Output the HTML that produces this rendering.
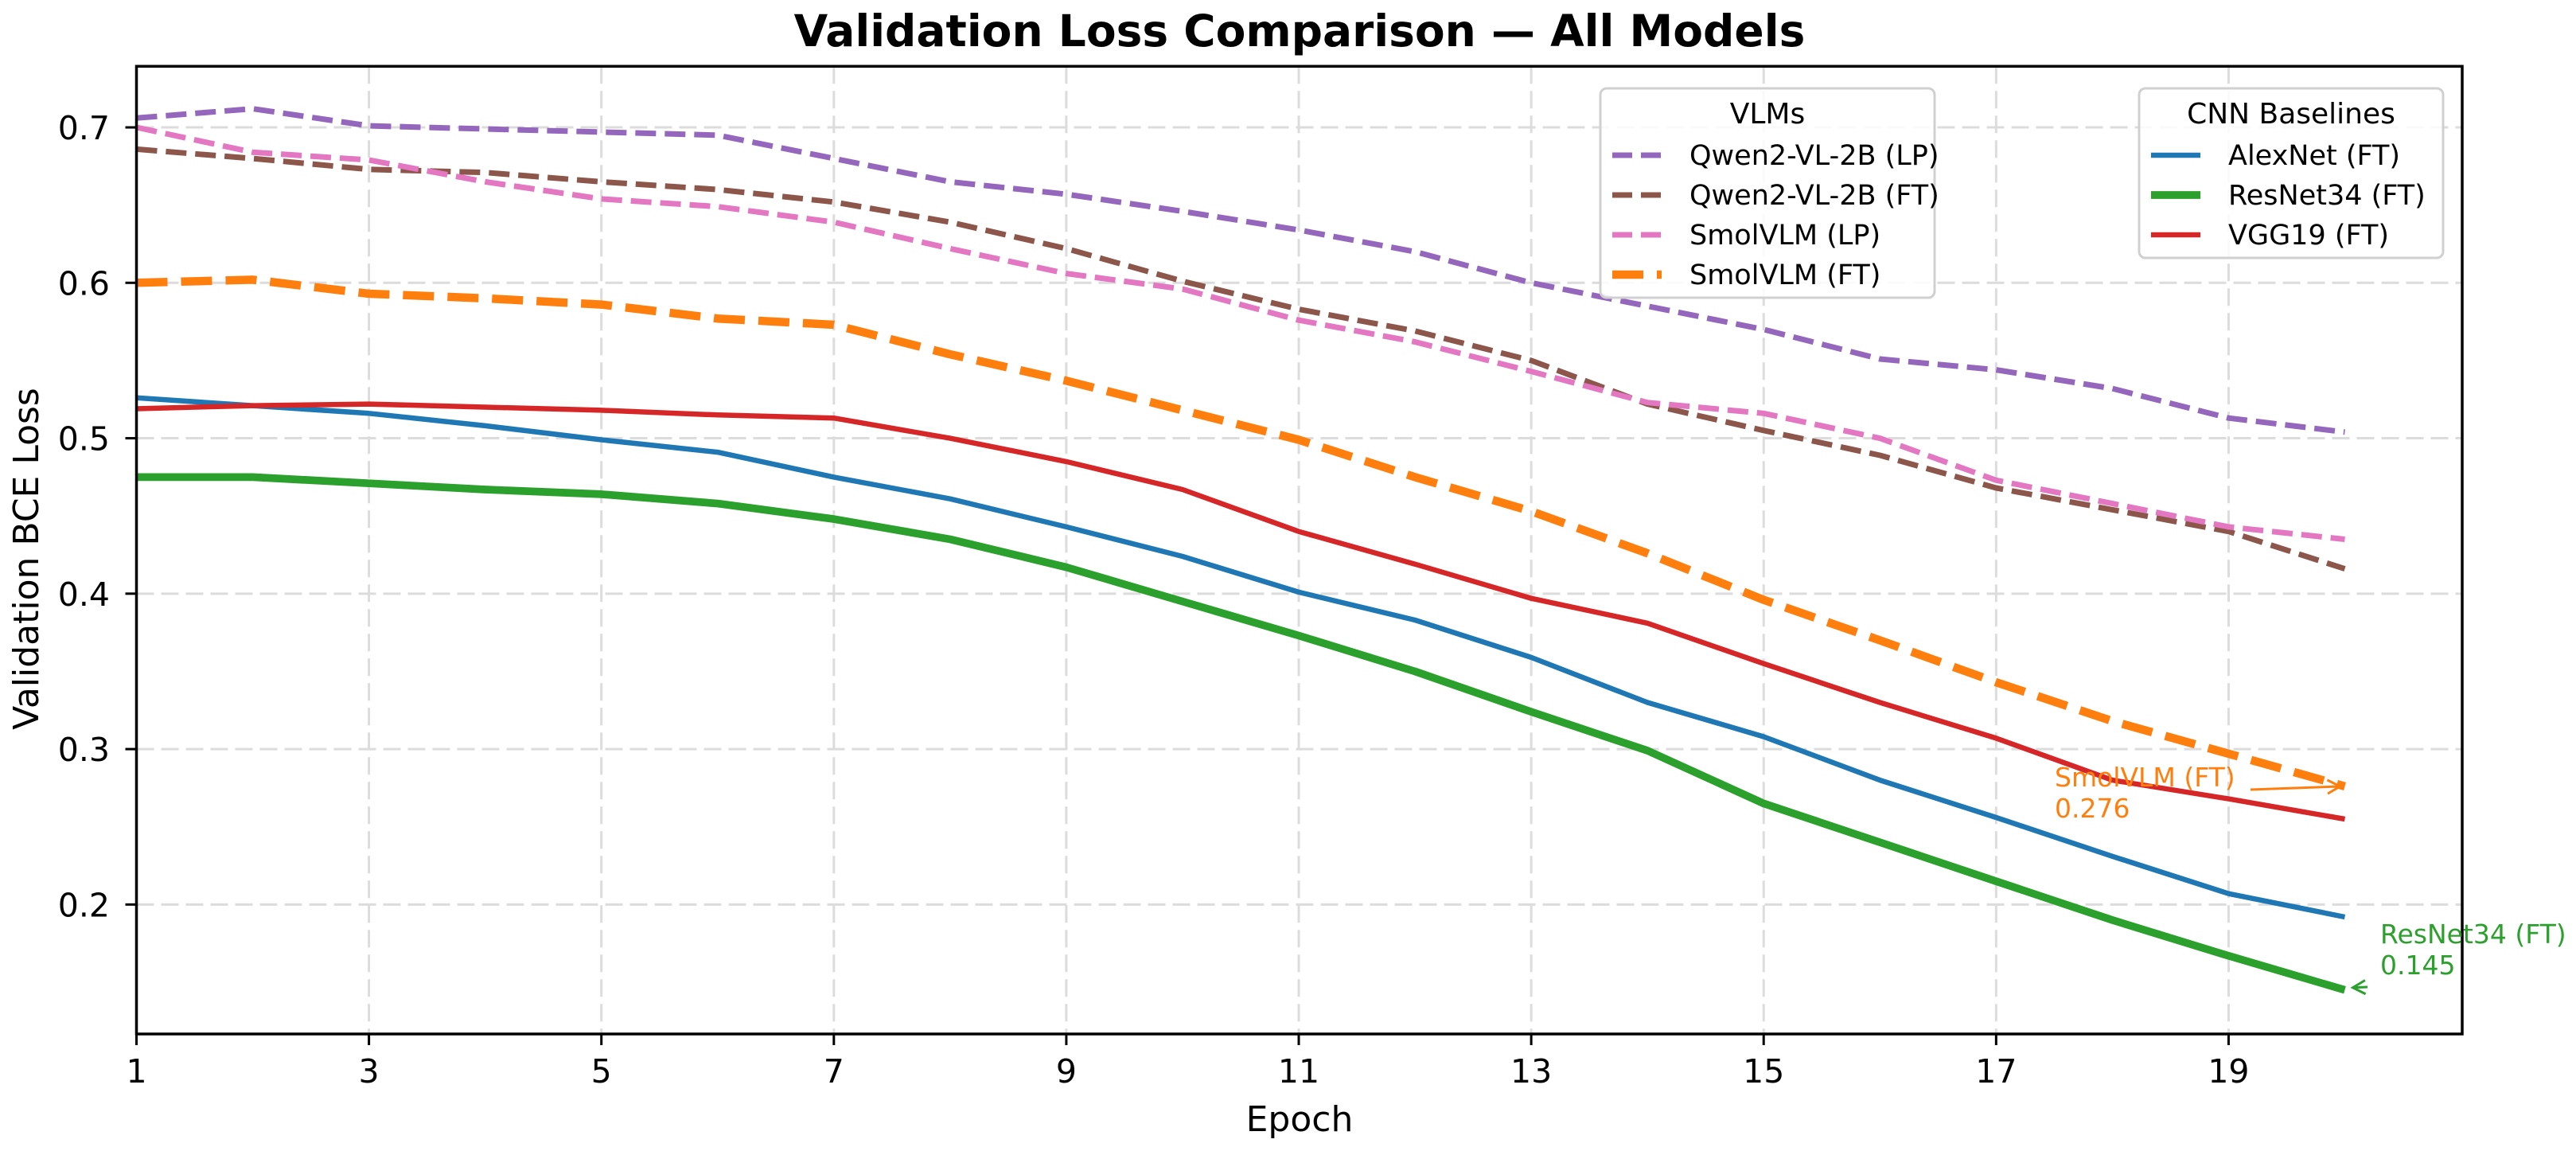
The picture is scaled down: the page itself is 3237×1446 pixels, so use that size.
<!DOCTYPE html>
<html><head><meta charset="utf-8"><style>
html,body{margin:0;padding:0;background:#fff;}
svg{display:block;font-family:"DejaVu Sans","Liberation Sans",sans-serif;}
</style></head><body>
<svg id="chart" width="3237" height="1446" viewBox="0 0 3237 1446" xmlns="http://www.w3.org/2000/svg">
<rect width="3237" height="1446" fill="#fff"/>
<text x="1633" y="58" text-anchor="middle" font-size="55" font-weight="bold">Validation Loss Comparison — All Models</text>
<g id="grid"></g>
<g id="series"></g>
<g id="axes"></g>
<text x="1633" y="1421" text-anchor="middle" font-size="44">Epoch</text>
<text transform="translate(48,702) rotate(-90)" text-anchor="middle" font-size="44">Validation BCE Loss</text>
<g id="legend-vlm"></g>
<g id="legend-cnn"></g>
<g id="annots"></g>
</svg>
<script>
const epochs=[1,2,3,4,5,6,7,8,9,10,11,12,13,14,15,16,17,18,19,20];
const qwenLP=[0.706,0.712,0.701,0.699,0.697,0.695,0.680,0.665,0.657,0.646,0.634,0.620,0.600,0.585,0.570,0.551,0.544,0.532,0.513,0.504];
const qwenFT=[0.686,0.680,0.673,0.671,0.665,0.660,0.652,0.639,0.622,0.601,0.583,0.569,0.550,0.522,0.505,0.489,0.468,0.454,0.440,0.416];
const smolLP=[0.700,0.684,0.679,0.665,0.654,0.649,0.639,0.622,0.606,0.596,0.576,0.562,0.543,0.523,0.516,0.500,0.473,0.458,0.443,0.435];
const smolFT=[0.600,0.602,0.593,0.590,0.586,0.577,0.573,0.554,0.537,0.518,0.499,0.475,0.453,0.426,0.396,0.370,0.343,0.318,0.297,0.276];
const alexFT=[0.526,0.521,0.516,0.508,0.499,0.491,0.475,0.461,0.443,0.424,0.401,0.383,0.359,0.330,0.308,0.280,0.256,0.231,0.207,0.192];
const resFT=[0.475,0.475,0.471,0.467,0.464,0.458,0.448,0.435,0.417,0.395,0.373,0.350,0.324,0.299,0.265,0.240,0.215,0.190,0.167,0.145];
const vggFT=[0.519,0.521,0.522,0.520,0.518,0.515,0.513,0.500,0.485,0.467,0.440,0.419,0.397,0.381,0.355,0.330,0.307,0.280,0.268,0.255];
const xTicks=[1,3,5,7,9,11,13,15,17,19];
const yTicks=[0.2,0.3,0.4,0.5,0.6,0.7];
const yTickLabels=["0.2","0.3","0.4","0.5","0.6","0.7"];

const NS="http://www.w3.org/2000/svg";
const L=171.5,R=3094,T=83.3,B=1299;
const xMin=1,xMax=21.01,yMin=0.1167,yMax=0.7393;
function X(v){return L+(v-xMin)/(xMax-xMin)*(R-L);}
function Y(v){return B-(v-yMin)/(yMax-yMin)*(B-T);}
function mk(tag,attrs,parent){const e=document.createElementNS(NS,tag);for(const k in attrs)e.setAttribute(k,attrs[k]);parent.appendChild(e);return e;}

const grid=document.getElementById('grid');
xTicks.forEach(t=>{
  const l=mk('line',{x1:X(t),x2:X(t),y1:T,y2:B,stroke:'#dcdcdc','stroke-width':3,'stroke-dasharray':'22 9'},grid);
  
  
});
yTicks.forEach(t=>{
  const l=mk('line',{x1:L,x2:R,y1:Y(t),y2:Y(t),stroke:'#dcdcdc','stroke-width':3,'stroke-dasharray':'22 9'},grid);
  
  
});

const seriesDefs=[
  {d:qwenLP,c:'#9467bd',w:7,dash:'26 11',n:'line-qwen2-vl-2b-lp'},
  {d:qwenFT,c:'#8c564b',w:7,dash:'26 11',n:'line-qwen2-vl-2b-ft'},
  {d:smolLP,c:'#e377c2',w:7,dash:'26 11',n:'line-smolvlm-lp'},
  {d:smolFT,c:'#ff7f0e',w:10.5,dash:'39 17',n:'line-smolvlm-ft'},
  {d:alexFT,c:'#1f77b4',w:6.5,dash:null,n:'line-alexnet-ft'},
  {d:resFT,c:'#2ca02c',w:9.7,dash:null,n:'line-resnet34-ft'},
  {d:vggFT,c:'#d62728',w:6.5,dash:null,n:'line-vgg19-ft'}
];
const sg=document.getElementById('series');
seriesDefs.forEach(s=>{
  const pts=epochs.map((e,i)=>X(e).toFixed(1)+','+Y(s.d[i]).toFixed(1)).join(' ');
  const a={points:pts,fill:'none',stroke:s.c,'stroke-width':s.w,'stroke-linejoin':'round'};
  if(s.dash)a['stroke-dasharray']=s.dash;
  const p=mk('polyline',a,sg);
  
  
});

const ax=document.getElementById('axes');
const frame=mk('rect',{x:L,y:T,width:R-L,height:B-T,fill:'none',stroke:'#000','stroke-width':3.5},ax);


xTicks.forEach(t=>{
  const tk=mk('line',{x1:X(t),x2:X(t),y1:B,y2:B+14,stroke:'#000','stroke-width':3},ax);
  
  
  const tx=mk('text',{x:X(t),y:1360,'text-anchor':'middle','font-size':41},ax);
  tx.textContent=String(t);
  
  
});
yTicks.forEach((t,i)=>{
  const tk=mk('line',{x1:L-14,x2:L,y1:Y(t),y2:Y(t),stroke:'#000','stroke-width':3},ax);
  
  
  const tx=mk('text',{x:138,y:Y(t)+15,'text-anchor':'end','font-size':41},ax);
  tx.textContent=yTickLabels[i];
  
  
});

function legend(gid,x,y,w,h,title,items){
  const g=document.getElementById(gid);
  const box=mk('rect',{x:x,y:y,width:w,height:h,rx:8,fill:'rgba(255,255,255,0.85)',stroke:'#d0d0d0','stroke-width':3},g);
  
  
  const tt=mk('text',{x:x+w/2,y:y+44,'text-anchor':'middle','font-size':36},g);
  tt.textContent=title;
  
  
  items.forEach((it,i)=>{
    const cy=y+84+i*50;
    const a={x1:x+15,x2:x+77,y1:cy,y2:cy,stroke:it.c,'stroke-width':it.w};
    if(it.dash)a['stroke-dasharray']=it.dash;
    const ln=mk('line',a,g);
    
    
    const tx=mk('text',{x:x+112,y:cy+12,'font-size':35},g);
    tx.textContent=it.label;
    
    
  });
}
legend('legend-vlm',2011,111,420,263,'VLMs',[
  {label:'Qwen2-VL-2B (LP)',c:'#9467bd',w:7,dash:'25 11'},
  {label:'Qwen2-VL-2B (FT)',c:'#8c564b',w:7,dash:'25 11'},
  {label:'SmolVLM (LP)',c:'#e377c2',w:7,dash:'25 11'},
  {label:'SmolVLM (FT)',c:'#ff7f0e',w:10.5,dash:'39 17'}]);
legend('legend-cnn',2688,111,382,213,'CNN Baselines',[
  {label:'AlexNet (FT)',c:'#1f77b4',w:6.5},
  {label:'ResNet34 (FT)',c:'#2ca02c',w:9.7},
  {label:'VGG19 (FT)',c:'#d62728',w:6.5}]);

const an=document.getElementById('annots');
function annot(lines,tx,ty,color,ax0,ay0,ax1,ay1,name){
  lines.forEach((s,i)=>{
    const t=mk('text',{x:tx,y:ty+i*39,'font-size':33,fill:color},an);
    t.textContent=s;
    
    
  });
  const ln=mk('line',{x1:ax0,y1:ay0,x2:ax1,y2:ay1,stroke:color,'stroke-width':3},an);
  
  
  const ang=Math.atan2(ay1-ay0,ax1-ax0),h=18;
  const p=mk('polyline',{points:(ax1-h*Math.cos(ang-0.5))+','+(ay1-h*Math.sin(ang-0.5))+' '+ax1+','+ay1+' '+(ax1-h*Math.cos(ang+0.5))+','+(ay1-h*Math.sin(ang+0.5)),fill:'none',stroke:color,'stroke-width':3},an);
  
  
}
annot(['SmolVLM (FT)','0.'+String(Math.round(smolFT[19]*1000))],2582,988,'#ff7f0e',2828,992,X(20)-6,Y(smolFT[19]),'smolvlm-ft-annotation');
annot(['ResNet34 (FT)','0.'+String(Math.round(resFT[19]*1000))],2991,1185,'#2ca02c',2975,1240,X(20)+10,Y(resFT[19])-3,'resnet34-ft-annotation');
</script>
</body></html>
